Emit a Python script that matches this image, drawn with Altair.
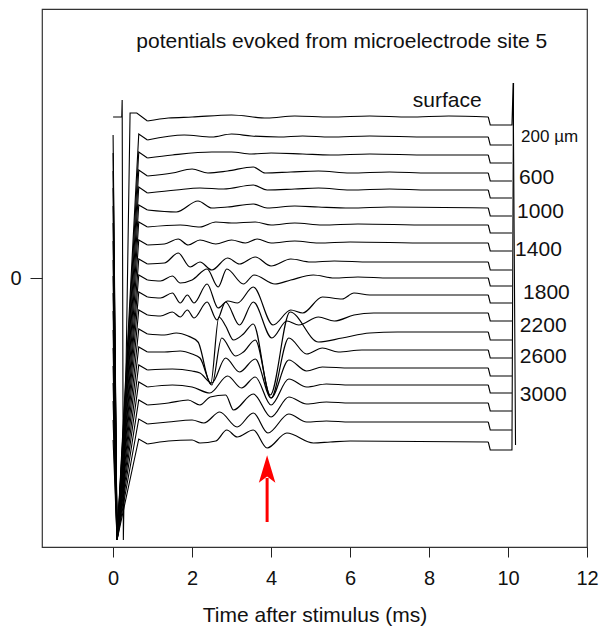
import altair as alt
import pandas as pd

# ---------------- data ----------------
trace_names = ["surface", "200", "400", "600", "800", "1000", "1200", "1400", "1600", "1800",
               "2000", "2200", "2400", "2600", "2800", "3000", "3200", "3400", "3600"]
# pixel row of each trace's flat baseline (0 of the y axis is row 278)
base_rows = [117, 137, 155, 173, 190, 208, 225, 243, 262, 278, 295, 313, 332, 350, 368, 385, 403, 422, 442]

# turning points of every trace: times (ms) and deflections from baseline (up = +)
peak_t = [
    [0.87, 1.4, 2.0, 3.0, 3.9, 4.6, 5.5, 6.5, 7.5, 8.5, 9.5],
    [0.87, 1.8, 2.5, 3.0, 3.5, 4.2, 4.8, 5.5, 6.5, 8.0, 9.5],
    [0.87, 1.5, 2.5, 3.0, 3.5, 4.0, 4.8, 5.5, 6.5, 8.0, 9.5],
    [0.87, 1.5, 2.0, 2.4, 2.9, 3.55, 3.85, 4.5, 5.2, 6.0, 7.0, 8.0, 9.5],
    [0.87, 1.6, 2.2, 2.8, 3.55, 3.9, 4.6, 5.2, 6.0, 7.0, 8.0, 9.5],
    [0.87, 1.6, 2.15, 2.5, 2.9, 3.55, 3.9, 4.6, 5.2, 6.0, 7.0, 9.5],
    [0.87, 1.7, 2.2, 2.6, 3.0, 3.6, 4.0, 4.6, 5.3, 6.2, 8.0, 9.5],
    [0.87, 1.3, 1.65, 1.9, 2.2, 2.6, 3.0, 3.35, 3.65, 4.0, 4.6, 5.2, 6.0, 8.0, 9.5],
    [0.87, 1.3, 1.65, 1.95, 2.2, 2.5, 2.9, 3.2, 3.6, 4.0, 4.5, 5.0, 5.6, 6.5, 9.5],
    [0.87, 1.2, 1.5, 1.7, 2.0, 2.38, 2.66, 2.88, 3.3, 3.57, 4.1, 4.5, 5.07, 5.6, 6.2, 7.0, 9.5],
    [0.87, 1.2, 1.5, 1.7, 1.88, 2.05, 2.38, 2.66, 2.9, 3.15, 3.55, 4.05, 4.5, 4.8, 5.3, 5.8, 6.1, 6.5, 7.0, 9.5],
    [0.87, 1.2, 1.5, 1.7, 1.88, 2.05, 2.38, 2.63, 2.85, 3.2, 3.55, 4.02, 4.4, 4.7, 5.2, 5.6, 6.1, 6.6, 9.5],
    [0.87, 1.3, 1.6, 1.9, 2.15, 2.47, 2.68, 2.85, 3.05, 3.3, 3.55, 3.98, 4.48, 5.2, 5.8, 6.5, 7.2, 9.5],
    [0.87, 1.3, 1.7, 2.0, 2.2, 2.5, 2.75, 3.1, 3.3, 3.6, 4.0, 4.45, 4.9, 5.3, 5.7, 6.3, 9.5],
    [0.87, 1.5, 2.0, 2.2, 2.5, 2.85, 3.2, 3.6, 4.0, 4.45, 4.9, 5.3, 6.0, 9.5],
    [0.87, 1.5, 2.0, 2.45, 2.9, 3.25, 3.6, 4.0, 4.45, 4.9, 5.4, 6.0, 9.5],
    [0.87, 1.4, 1.9, 2.2, 2.46, 2.85, 3.05, 3.55, 4.0, 4.45, 4.9, 5.4, 6.0, 9.5],
    [0.87, 1.4, 2.0, 2.3, 2.7, 3.14, 3.55, 3.92, 4.45, 4.9, 5.4, 6.0, 9.5],
    [0.87, 1.4, 2.0, 2.2, 2.6, 2.88, 3.14, 3.55, 3.9, 4.4, 5.07, 5.5, 6.0, 9.5],
]
peak_off = [
    [-4, -1, 0, 2, -1, 1, 0, 1, 0, 1, 0],
    [-3, 2, 0, 3, 1, 0, 1, 0, 1, 0, 0],
    [-3, 0, 3, 3, 1, 2, 1, 0, 1, 0, 0],
    [-3, 0, 4, 0, 2, 6, 0, 1, 2, 0, 1, 0, 0],
    [-3, 0, 2, 1, 5, 0, 1, 2, 0, 1, 0, 0],
    [-2, -4, 7, 0, 1, 4, 0, 2, 1, 0, 1, 0],
    [-2, 0, -2, 3, 2, 3, 0, 2, 0, 1, 0, 0],
    [-2, -1, 4, -2, 3, -1, 3, 0, 4, 0, 2, 0, 1, 0, 0],
    [-2, -1, 9, -5, 0, -8, 4, -2, 5, -4, 3, 0, 1, 0, 0],
    [-2, -3, 2, -5, -2, 9, -9, 9, -6, 3, -6, -2, 3, 0, 1, 0, 0],
    [-2, -3, 2, -8, 0, -8, 11, -13, -6, -8, 8, -30, -15, -18, -2, -4, 2, 0, 0, 0],
    [-2, -3, 1, -4, 3, -5, 11, -7, 11, -12, 11, -25, -8, -12, -4, -8, -2, 0, 0],
    [-2, -3, -1, -4, -10, -52, 15, 6, -8, -2, 8, -63, 20, -10, -6, -1, 0, 0],
    [-2, -2, -1, -4, -8, -35, 12, -6, -2, 10, -48, 12, -4, 2, -2, 0, 0],
    [-2, -1, -3, -5, -15, 10, -4, 9, -30, 8, -3, 1, 0, 0],
    [-2, 0, -2, -8, 9, -3, 8, -20, 6, -2, 1, 0, 0],
    [-2, 0, 3, -2, 6, 8, -7, 9, -14, 6, -1, 1, 0, 0],
    [-2, 0, 2, -1, 10, -5, 9, -11, 8, 0, 1, 0, 0],
    [-2, 1, 2, -1, 1, 12, 5, 12, -6, 9, -1, 0, 1, 0],
]

# stimulus artefact at the start of every trace
art_t = [0.0, 0.1, 0.65]
art_off = [2, None, 3]          # None = saturated bottom
art_bottom = -262
surface_art_t = [0.0, 0.22, 0.23, 0.26, 0.43, 0.6]
surface_art_y = [161, 161, 178, -262, 165, 165]

# end-of-sweep step and the closing artefact
tail_t = [9.5, 9.55, 10.1]
tail_off = [0, -8, -8]
end_spike_t = [10.13, 10.19]
end_spike_y = [195, -167]

label_text = ["surface", "200 µm", "600", "1000", "1400", "1800", "2200", "2600", "3000"]
label_t = [7.59, 10.33, 10.28, 10.23, 10.18, 10.38, 10.30, 10.30, 10.30]
label_y = [177, 141, 100, 66, 28, -15, -48, -79, -117]
label_size = [21, 17, 21, 21, 21, 21, 21, 21, 21]

title_text = ["potentials evoked from microelectrode site 5"]
title_t = [5.79]
title_y = [236]

arrow_t = [3.9]
arrow_y = [-244, -200]
arrow_head_y = [-191]

x_ticks = [0, 2, 4, 6, 8, 10, 12]

# ---------------- tables ----------------
rows_art, rows_wave, rows_tail = [], [], []
for i, row in enumerate(base_rows):
    b = 278 - row
    if i == 0:
        for k, (t, y) in enumerate(zip(surface_art_t, surface_art_y)):
            rows_art.append({"trace": i, "k": k, "t": t, "v": y})
    else:
        for k, (t, o) in enumerate(zip(art_t, art_off)):
            rows_art.append({"trace": i, "k": k, "t": t, "v": art_bottom if o is None else b + o})
    rows_art.append({"trace": i, "k": 99, "t": peak_t[i][0], "v": b + peak_off[i][0]})
    for t, o in zip(peak_t[i], peak_off[i]):
        rows_wave.append({"trace": i, "t": t, "v": b + o})
    for k, (t, o) in enumerate(zip(tail_t, tail_off)):
        rows_tail.append({"trace": i, "k": k, "t": t, "v": b + o})
    if i == 0:
        for k, (t, y) in enumerate(zip(end_spike_t, end_spike_y)):
            rows_tail.append({"trace": i, "k": 10 + k, "t": t, "v": y})
    if i == len(base_rows) - 1:
        rows_tail.append({"trace": i, "k": 10, "t": end_spike_t[0] + 0.01, "v": end_spike_y[0]})

df_art = pd.DataFrame(rows_art)
df_wave = pd.DataFrame(rows_wave)
df_tail = pd.DataFrame(rows_tail)
df_lab = pd.DataFrame({"text": label_text, "t": label_t, "v": label_y, "s": label_size})
df_title = pd.DataFrame({"text": title_text, "t": title_t, "v": title_y})
df_arrow = pd.DataFrame({"t": arrow_t * 2, "v": arrow_y})
df_head = pd.DataFrame({"t": arrow_t, "v": arrow_head_y})

FONT = "Liberation Sans"
xs = alt.Scale(domain=[-1.8, 12], nice=False, zero=False)
ys = alt.Scale(domain=[-269, 269], nice=False, zero=False)

x_axis = alt.Axis(values=x_ticks, title="Time after stimulus (ms)", grid=False, domain=False,
                  tickSize=10, tickColor="#222", labelFontSize=20, labelPadding=11,
                  labelFont=FONT, labelColor="#111", titleFont=FONT, titleFontSize=21,
                  titleFontWeight="normal", titleColor="#111", titlePadding=16,
                  labelFlush=False)
y_axis = alt.Axis(values=[0], title=None, grid=False, domain=False, tickSize=12,
                  tickColor="#222", labelFontSize=20, labelPadding=9, labelFont=FONT,
                  labelColor="#111")

art = alt.Chart(df_art).mark_line(color="black", strokeWidth=1.1).encode(
    x=alt.X("t:Q", scale=xs, axis=x_axis),
    y=alt.Y("v:Q", scale=ys, axis=y_axis),
    detail="trace:N", order="k:Q")
wave = alt.Chart(df_wave).mark_line(color="black", strokeWidth=1.2, interpolate="monotone").encode(
    x=alt.X("t:Q", scale=xs), y=alt.Y("v:Q", scale=ys), detail="trace:N", order="t:Q")
tail = alt.Chart(df_tail).mark_line(color="black", strokeWidth=1.1).encode(
    x=alt.X("t:Q", scale=xs), y=alt.Y("v:Q", scale=ys), detail="trace:N", order="k:Q")

labels = alt.Chart(df_lab).mark_text(align="left", baseline="middle", font=FONT, color="#111").encode(
    x=alt.X("t:Q", scale=xs), y=alt.Y("v:Q", scale=ys), text="text:N",
    size=alt.Size("s:Q", scale=None, legend=None))
title = alt.Chart(df_title).mark_text(align="center", baseline="middle", font=FONT,
                                      fontSize=21, color="#111").encode(
    x=alt.X("t:Q", scale=xs), y=alt.Y("v:Q", scale=ys), text="text:N")
shaft = alt.Chart(df_arrow).mark_line(color="#ff0000", strokeWidth=3).encode(
    x=alt.X("t:Q", scale=xs), y=alt.Y("v:Q", scale=ys))
head = alt.Chart(df_head).mark_point(shape="M0,-1L0.6,1L0,0.55L-0.6,1Z", size=760, filled=True,
                                     color="#ff0000", opacity=1, strokeWidth=0).encode(
    x=alt.X("t:Q", scale=xs), y=alt.Y("v:Q", scale=ys))

chart = alt.layer(art, wave, tail, labels, title, shaft, head).properties(
    width=545, height=538,
    autosize=alt.AutoSizeParams(type="none"),
    padding={"left": 42, "top": 9, "right": 13, "bottom": 87},
    background="white",
).configure_view(stroke="#333", strokeWidth=1.2)

chart.save("out.html", embed_options={"renderer": "svg", "actions": False})
